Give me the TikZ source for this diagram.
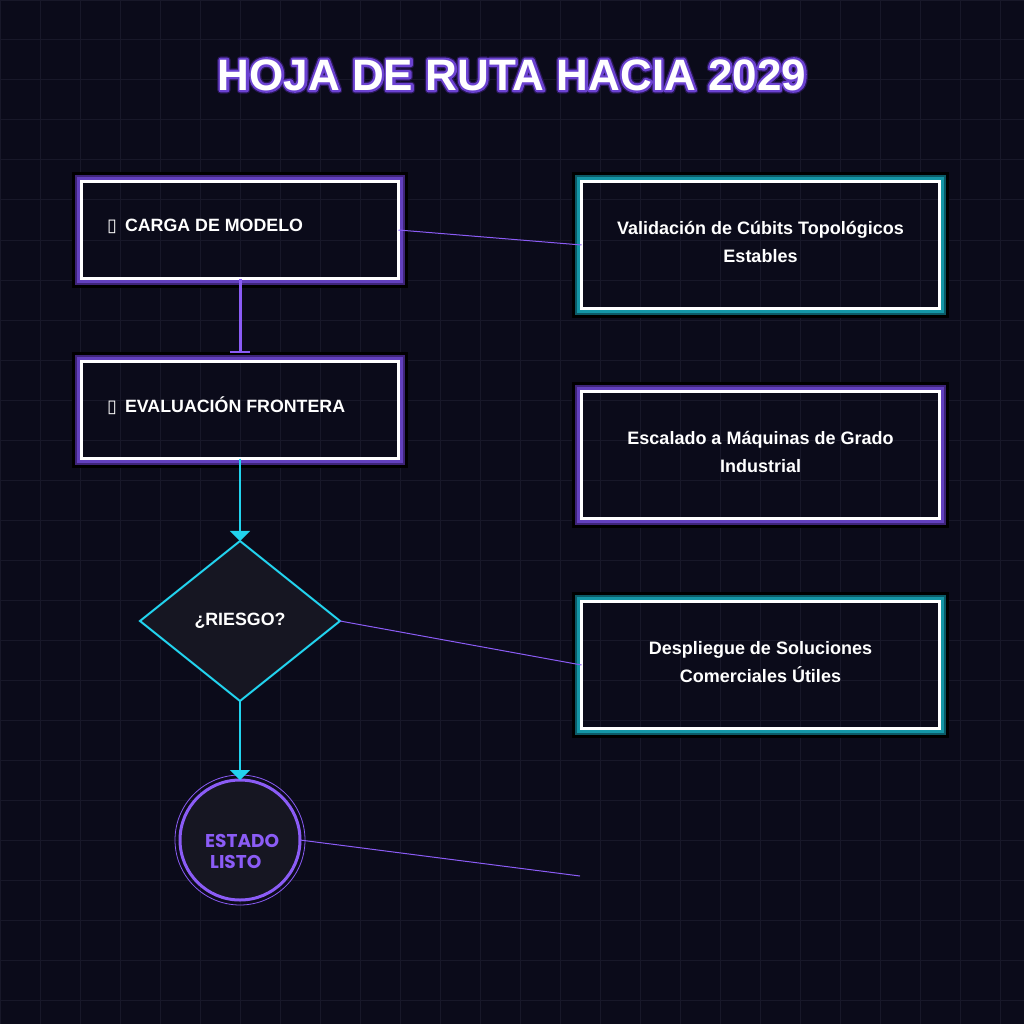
\documentclass[tikz,border=0pt]{standalone}
\usepackage{fontspec}
\setmainfont{Liberation Sans}
\newfontfamily\roundfont{Poppins}
\newfontfamily\symfont{DejaVu Sans}
\usetikzlibrary{arrows.meta, shapes.geometric}
\definecolor{canvas}{HTML}{0B0B1A}
\definecolor{grid-line}{HTML}{181829}
\definecolor{shape-fill}{HTML}{161622}
\definecolor{violet}{HTML}{8B5CF6}
\definecolor{violet-glow}{HTML}{6240BE}
\definecolor{violet-deep}{HTML}{3E2478}
\definecolor{teal-glow}{HTML}{1496A6}
\definecolor{teal-deep}{HTML}{0C5A66}
\definecolor{flow}{HTML}{22D3EE}
% outline strokes for the title (stroke-only text render mode)
\newcommand{\outlinetext}[3]{\special{pdf:literal direct 1 Tr 1 j #2 w #3 RG}#1\special{pdf:literal direct 0 Tr}}
\tikzset{
  title-text/.style={
    text=white, inner sep=0pt, font=\bfseries\fontsize{44}{48}\selectfont
  },
  step-box/.style={
    rectangle, draw=white, line width=3pt, outer sep=0pt, inner sep=0pt,
    minimum width=317pt, minimum height=97pt
  },
  step-label/.style={
    anchor=base west, inner sep=0pt, text=white,
    font=\bfseries\fontsize{17.8}{20}\selectfont
  },
  goal-box/.style={
    rectangle, draw=white, line width=3pt, outer sep=0pt, inner sep=0pt,
    minimum width=358pt, minimum height=127pt
  },
  goal-label/.style={
    align=center, inner sep=0pt, text=white,
    font=\bfseries\fontsize{18}{28}\selectfont
  },
  risk-node/.style={
    diamond, draw=flow, line width=2pt, fill=shape-fill, inner sep=0pt,
    outer sep=0pt, minimum width=200pt, minimum height=160pt, text=white,
    font=\bfseries\fontsize{17.8}{20}\selectfont
  },
  done-node/.style={
    circle, draw=violet, line width=3pt, fill=shape-fill, inner sep=0pt,
    outer sep=0pt, minimum size=120pt
  },
  done-label/.style={
    anchor=base west, inner sep=0pt, text=violet,
    font=\roundfont\bfseries\fontsize{18.5}{21}\selectfont
  },
  flow-edge/.style={-{Triangle[length=10pt, width=20pt]}, line width=2pt, draw=flow},
  stop-edge/.style={-{Bar[width=20pt, line width=1.5pt]}, line width=3pt, draw=violet, shorten >=9pt},
  link-edge/.style={line width=1pt, draw=violet}
}
\begin{document}
\begin{tikzpicture}[x=1pt, y=-1pt]
  % Canvas and grid
  \fill[canvas] (0,0) rectangle (1024,1024);
  \useasboundingbox (0,0) rectangle (1024,1024);
  \draw[grid-line, line width=1pt, step=40pt] (0,0) grid (1024,1024);

  % Title: outline underneath, white face on top
  \node[title-text] (title-halo) at (512,75) {\outlinetext{HOJA DE RUTA HACIA 2029}{7}{0.16 0.09 0.34}};
  \node[title-text] (title-glow) at (512,75) {\outlinetext{HOJA DE RUTA HACIA 2029}{4.5}{0.42 0.26 0.82}};
  \node[title-text] (title) at (512,75) {HOJA DE RUTA HACIA 2029};

  % Left column
  \node[step-box] (carga)  at (240,230) {};
  \node[step-box] (evalua) at (240,410) {};
  \node[step-label] (carga-txt)  at ([xshift=25.5pt, yshift=-2pt]carga.west)  {{\symfont ▯}\hspace{0.45em}CARGA DE MODELO};
  \node[step-label] (evalua-txt) at ([xshift=25.5pt, yshift=-2pt]evalua.west) {{\symfont ▯}\hspace{0.45em}EVALUACIÓN FRONTERA};
  \node[risk-node] (riesgo) at (240,621) {¿RIESGO?};
  \node[done-node] (listo)  at (240,840) {};
  \draw[violet, line width=0.8pt] (listo.center) circle (65);
  \node[done-label] (listo-txt1) at (205,847) {ESTADO};
  \node[done-label] (listo-txt2) at (210,868) {LISTO};

  % Right column
  \node[goal-box] (cubits)     at (760.5,245) {};
  \node[goal-box] (escalado)   at (760.5,455) {};
  \node[goal-box] (despliegue) at (760.5,665) {};
  \node[goal-label] (cubits-txt)     at ([yshift=3pt]cubits.center)     {Validación de Cúbits Topológicos\\Estables};
  \node[goal-label] (escalado-txt)   at ([yshift=3pt]escalado.center)   {Escalado a Máquinas de Grado\\Industrial};
  \node[goal-label] (despliegue-txt) at ([yshift=3pt]despliegue.center) {Despliegue de Soluciones\\Comerciales Útiles};

  % Glow frames round the boxes
  \foreach \nd/\glow/\deep in {carga/violet-glow/violet-deep, evalua/violet-glow/violet-deep,
      cubits/teal-glow/teal-deep, escalado/violet-glow/violet-deep, despliegue/teal-glow/teal-deep} {
    \draw[black, line width=3pt] ([shift={(-8,-8)}]\nd.north west) rectangle ([shift={(8,8)}]\nd.south east);
    \draw[\deep, line width=2pt] ([shift={(-5.5,-5.5)}]\nd.north west) rectangle ([shift={(5.5,5.5)}]\nd.south east);
    \draw[\glow, line width=3pt] ([shift={(-3,-3)}]\nd.north west) rectangle ([shift={(3,3)}]\nd.south east);
  }

  % Flow down the left column
  \draw[stop-edge] (carga) -- (evalua);
  \draw[flow-edge] (evalua) -- (riesgo);
  \draw[flow-edge] (riesgo) -- (listo);

  % Thin links to the milestones
  \coordinate (listo-end) at (580,876);
  \draw[link-edge] (carga.east) -- (cubits.west);
  \draw[link-edge] (riesgo.east) -- (despliegue.west);
  \draw[link-edge] (listo.east) -- (listo-end);
\end{tikzpicture}
\end{document}
